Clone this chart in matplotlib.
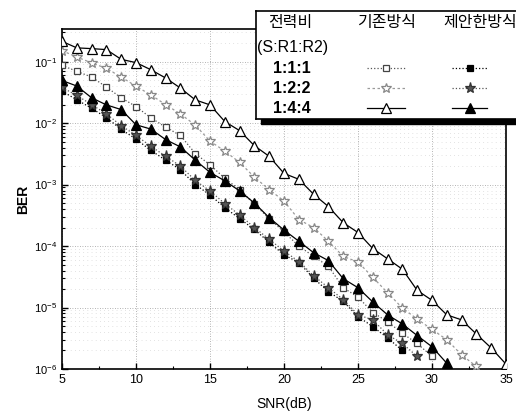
import matplotlib
matplotlib.use('Agg')
from matplotlib import pyplot as plt
from matplotlib.lines import Line2D
from matplotlib.patches import Rectangle
from matplotlib.ticker import MultipleLocator, LogLocator, NullFormatter
import numpy as np

plt.rcParams['font.family'] = ['Liberation Sans', 'Noto Sans CJK KR', 'DejaVu Sans']
plt.rcParams['mathtext.fontset'] = 'custom'
plt.rcParams['mathtext.rm'] = 'Liberation Sans'

# SNR axis (dB)
snr_441_old = np.arange(5, 36)
snr_441_new = np.arange(5, 32)
snr_111_old = np.arange(5, 31)
snr_111_new = np.arange(5, 29)
snr_122_old = np.arange(5, 34)
snr_122_new = np.arange(5, 30)

# BER
ber_111_old = [0.0871, 0.0695, 0.0562, 0.0386, 0.0258, 0.0186, 0.0122, 8.6e-3, 6.3e-3,
               3.2e-3, 2.1e-3, 1.26e-3, 8.3e-4, 4.8e-4, 2.8e-4, 1.7e-4, 1.0e-4, 6.8e-5,
               4.7e-5, 2.1e-5, 1.48e-5, 8.3e-6, 5.9e-6, 3.8e-6, 2.6e-6, 1.6e-6]
ber_111_new = [0.0331, 0.0240, 0.0174, 0.0123, 7.9e-3, 5.5e-3, 3.6e-3, 2.5e-3, 1.74e-3,
               1.0e-3, 6.8e-4, 4.2e-4, 2.8e-4, 1.86e-4, 1.15e-4, 7.2e-5, 5.4e-5, 3.0e-5,
               1.82e-5, 1.26e-5, 7.1e-6, 4.9e-6, 3.2e-6, 2.0e-6]
ber_122_old = [0.151, 0.119, 0.0955, 0.0776, 0.0562, 0.0398, 0.0288, 0.020, 0.0141,
               9.3e-3, 5.1e-3, 3.5e-3, 2.3e-3, 1.32e-3, 8.3e-4, 5.4e-4, 2.7e-4, 2.0e-4,
               1.2e-4, 6.8e-5, 5.5e-5, 3.1e-5, 1.74e-5, 9.8e-6, 6.5e-6, 4.4e-6, 3.0e-6,
               1.7e-6, 1.1e-6]
ber_122_new = [0.038, 0.0282, 0.020, 0.0141, 9.1e-3, 6.3e-3, 4.2e-3, 2.9e-3, 2.0e-3,
               1.17e-3, 7.9e-4, 4.9e-4, 3.2e-4, 2.0e-4, 1.29e-4, 8.3e-5, 5.6e-5, 3.3e-5,
               2.1e-5, 1.35e-5, 7.6e-6, 6.3e-6, 3.6e-6, 2.6e-6, 1.6e-6]
ber_441_old = [0.214, 0.1675, 0.163, 0.157, 0.109, 0.0964, 0.0740, 0.0542, 0.0372,
               0.0239, 0.0198, 0.0106, 7.55e-3, 4.29e-3, 2.88e-3, 1.52e-3, 1.22e-3,
               6.97e-4, 4.39e-4, 2.40e-4, 1.66e-4, 9.1e-5, 6.2e-5, 4.2e-5, 1.9e-5,
               1.31e-5, 7.6e-6, 6.3e-6, 3.7e-6, 2.2e-6, 1.2e-6]
ber_441_new = [0.0494, 0.0401, 0.0258, 0.0198, 0.0166, 9.4e-3, 8.0e-3, 5.4e-3, 4.1e-3,
               2.5e-3, 1.58e-3, 1.15e-3, 7.9e-4, 5.0e-4, 2.9e-4, 1.82e-4, 1.2e-4, 7.8e-5,
               5.8e-5, 2.95e-5, 2.1e-5, 1.23e-5, 7.6e-6, 5.4e-6, 3.5e-6, 2.3e-6, 1.24e-6]

ratio_labels = ['1:1:1', '1:2:2', '1:4:4']
col_headers = ['전력비', '기존방식', '제안한방식']

# style per curve: (linestyle, color, marker, facecolor, edgecolor, size)
styles_old = [(':', '#555555', 's', 'white', '#444444', 5),
              ((0, (2, 2)), '#9a9a9a', '*', 'white', '#888888', 7),
              ('-', 'black', '^', 'white', 'black', 6.5)]
styles_new = [(':', 'black', 's', 'black', 'black', 5),
              (':', '#555555', '*', '#555555', '#333333', 8),
              ('-', 'black', '^', 'black', 'black', 6.5)]

fig = plt.figure(figsize=(5.16, 4.17), dpi=100)
ax = fig.add_axes([0.1202, 0.1151, 0.8604, 0.8154])

curves_old = [(snr_111_old, ber_111_old), (snr_122_old, ber_122_old), (snr_441_old, ber_441_old)]
curves_new = [(snr_111_new, ber_111_new), (snr_122_new, ber_122_new), (snr_441_new, ber_441_new)]

for (x, y), st in zip(curves_old + curves_new, styles_old + styles_new):
    ls, c, m, fc, ec, ms = st
    ax.semilogy(x, y, linestyle=ls, color=c, lw=0.9, marker=m, mfc=fc, mec=ec,
                ms=ms, mew=0.9, zorder=3)

ax.set_xlim(5, 35)
ax.set_ylim(1e-6, 0.34)
ax.xaxis.set_major_locator(MultipleLocator(5))
ax.xaxis.set_minor_locator(MultipleLocator(2.5))
ax.yaxis.set_major_locator(LogLocator(base=10, numticks=10))
ax.yaxis.set_minor_locator(LogLocator(base=10, subs=np.arange(2, 10), numticks=10))
ax.yaxis.set_minor_formatter(NullFormatter())
ax.tick_params(which='both', direction='in', top=False, right=False, labelsize=9)
ax.tick_params(which='major', length=4, width=1)
ax.tick_params(which='minor', length=2, width=0.8)
ax.tick_params(axis='y', labelsize=8)

ax.grid(True, which='major', linestyle=(0, (1, 2)), color='#9a9a9a', lw=0.6)
ax.grid(True, which='minor', axis='y', linestyle=(0, (1, 5)), color='#c8c8c8', lw=0.5)

for s in ax.spines.values():
    s.set_linewidth(1.2)

ax.set_xlabel('SNR(dB)', fontsize=10, labelpad=8)
ax.set_ylabel('BER', fontsize=10, fontweight='bold', labelpad=3)

# legend table drawn as its own small axes with a drop shadow
lx0, ly0, lw_, lh_ = 256 / 516, 1 - 119 / 417, 262 / 516, 108 / 417
fig.patches.append(Rectangle((lx0 + 5 / 516, ly0 - 5 / 417), lw_, 5 / 417,
                             transform=fig.transFigure, color='black', zorder=5))
lax = fig.add_axes([lx0, ly0, lw_, lh_], zorder=6)
lax.set_xlim(0, 1)
lax.set_ylim(0, 1)
lax.set_xticks([])
lax.set_yticks([])
for s in lax.spines.values():
    s.set_linewidth(1.2)

kfont = ['Noto Sans CJK KR', 'DejaVu Sans']
lax.text(0.13, 0.89, col_headers[0], ha='center', va='center', fontsize=11.5, family=kfont)
lax.text(0.50, 0.89, col_headers[1], ha='center', va='center', fontsize=11.5, family=kfont)
lax.text(0.855, 0.89, col_headers[2], ha='center', va='center', fontsize=11.5, family=kfont)
lax.text(0.005, 0.665, '(S:R1:R2)', ha='left', va='center', fontsize=11.5)

row_y = [0.47, 0.285, 0.10]
for lab, yy, so, sn in zip(ratio_labels, row_y, styles_old, styles_new):
    lax.text(0.137, yy, lab, ha='center', va='center', fontsize=11.5, fontweight='bold')
    for st, (xa, xb, xm) in zip([so, sn], [(0.424, 0.569, 0.496), (0.748, 0.882, 0.815)]):
        ls, c, m, fc, ec, ms = st
        lax.add_line(Line2D([xa, xb], [yy, yy], linestyle=ls, color=c, lw=0.9))
        lax.add_line(Line2D([xm], [yy], marker=m, mfc=fc, mec=ec, ms=ms, mew=0.9,
                            linestyle='none'))

fig.savefig('out.png', dpi=100)
